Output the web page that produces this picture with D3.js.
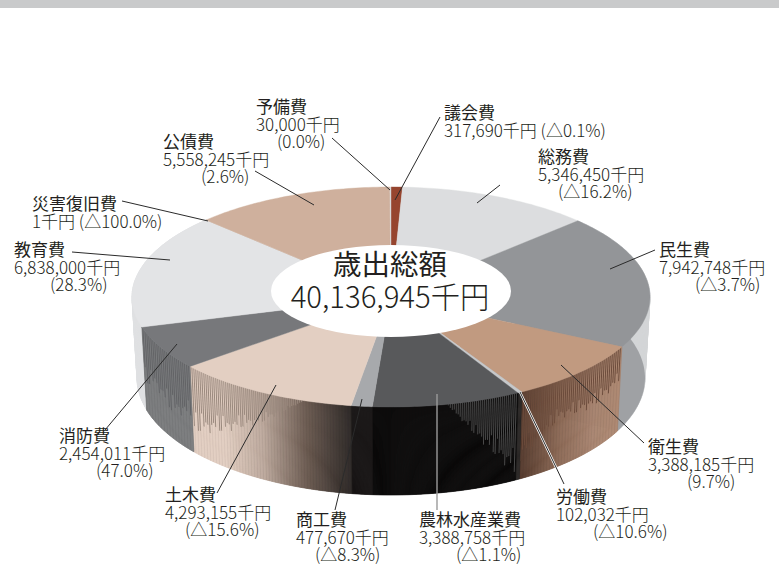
<!doctype html>
<html>
<head>
  <meta charset="utf-8">
  <script src="https://d3js.org/d3.v7.min.js"></script>
  <style>
    html, body {margin: 0; padding: 0; background: #fff;}
    svg {display: block;}
    text {font-family: "Noto Sans CJK JP", "Noto Sans", sans-serif; fill: #231f20;}
    .label {font-size: 17px; font-weight: 300;}
    .label .name {font-weight: 400;}
  </style>
</head>
<body>
  <svg id="chart" width="779" height="574"></svg>
  <script>
    const width = 779, height = 574

    // data, clockwise from 12 o'clock
    const categories = ['議会費', '総務費', '民生費', '衛生費', '労働費', '農林水産業費', '商工費', '土木費', '消防費', '教育費', '災害復旧費', '公債費', '予備費']
    const amounts = [317690, 5346450, 7942748, 3388185, 102032, 3388758, 477670, 4293155, 2454011, 6838000, 1, 5558245, 30000]
    const changes = ['△0.1%', '△16.2%', '△3.7%', '9.7%', '△10.6%', '△1.1%', '△8.3%', '△15.6%', '47.0%', '28.3%', '△100.0%', '2.6%', '0.0%']
    const title = '歳出総額'
    const totalLabel = '40,136,945千円'

    // top face colours
    const topColors = ['#96452f', '#dcdddf', '#939598', '#c19a80', '#c6c8ca', '#58595b', '#a7a9ac', '#e3cfc2', '#77787b', '#e3e4e6', '#d0b3a1', '#cfb09d', '#d8d8d8']

    // wall look per slice: ramp over the slice, stripe colour and stripe length (0..1 of wall height)
    const walls = {
      3: {ramp: ['#b08a72', '#a98571', '#8d6a56', '#54392c'], stripe: '#6b4b3b', len: [0.4, 0.5, 0.45, 0.8]},
      4: {ramp: ['#2a2625', '#2a2625'], stripe: '#2a2625', len: [0, 0]},
      5: {ramp: ['#0a0808', '#0a0808'], stripe: '#4a4a4a', len: [0.95, 0.5, 0, 0, 0]},
      6: {ramp: ['#161313', '#161313'], stripe: '#161313', len: [0, 0]},
      7: {ramp: ['#2c2725', '#6c5b51', '#bda99d', '#e3cfc2', '#e3cfc2'], stripe: '#9a897e', len: [0, 0, 0.35, 0.6, 0.78]},
      8: {ramp: ['#7b7c7e', '#7b7c7e'], stripe: '#626366', len: [0.6, 0.7, 0.55, 0.7]}
    }

    // label layout [x, y of first baseline], indent of the last line
    const labelPos = [
      [444, 119], [538, 163], [659, 256], [648, 453], [556, 503], [419, 526], [296, 526],
      [165, 501], [59, 442], [14, 256], [32, 210], [163, 148], [256, 113]
    ]
    const lastIndent = [0, 20, 36, 39, 37, 37, 19, 20, 37, 36, 0, 38, 21]
    const leaders = [
      [[440, 117], [395, 200]], [[500, 185], [477, 203]], [[655, 250], [610, 269]], [[644, 443], [561, 365]],
      [[564, 484], [520, 392]], [[437, 510], [437, 394]], [[335, 510], [362, 399]], [[217, 493], [276, 385]],
      [[105, 430], [177, 344]], [[72, 252], [170, 260]], [[122, 201], [208, 221]], [[255, 171], [314, 205]],
      [[332, 138], [390, 190]]
    ]

    const svg = d3.select('#chart')
    const toRad = Math.PI / 180

    // the gray band at the top of the page
    svg.append('rect').attr('width', width).attr('height', 8).attr('fill', '#c9cacb')

    const topE = {cx: 391, cy: 297, rx: 259, ry: 110}
    const botE = {cx: 391, cy: 378, rx: 254, ry: 117}
    const core = {cx: 391, cy: 291, rx: 120, ry: 46}

    // slight perspective: angles on the ellipse lean away from the viewer
    const warp = a => a - 6 * toRad * Math.sin(a)
    const onE = (e, a) => [e.cx + e.rx * Math.sin(a), e.cy - e.ry * Math.cos(a)]

    const slices = d3.pie().sort(null).value(d => d)(amounts).map((s, i) => ({
      i: i, a0: warp(s.startAngle), a1: warp(s.endAngle)
    }))

    const line = d3.line()
    const arcPts = (e, a0, a1, n) => d3.range(n + 1).map(k => onE(e, a0 + (a1 - a0) * k / n))
    const sector = (e, s, n) => line([[e.cx, e.cy]].concat(arcPts(e, s.a0, s.a1, n))) + 'Z'

    // stripes across the wall of one slice, roughly 1px wide on screen
    function stripes(s) {
      const out = []
      let a = s.a0, k = 0
      while (a < s.a1) {
        const step = 1 / (topE.rx * Math.max(0.2, Math.abs(Math.cos(a))))
        const next = Math.min(a + step, s.a1)
        out.push({a: a, b: next, k: k++, f: (a - s.a0) / (s.a1 - s.a0)})
        a = next
      }
      return out
    }
    const quad = (a, b, t) => {
      const mix = (u, v) => [u[0] + (v[0] - u[0]) * t, u[1] + (v[1] - u[1]) * t]
      return line([onE(topE, a), onE(topE, b), mix(onE(topE, b), onE(botE, b)), mix(onE(topE, a), onE(botE, a))]) + 'Z'
    }
    const rampScale = (stops) => d3.scaleLinear()
      .domain(stops.map((d, i) => i / (stops.length - 1)))
      .range(stops).clamp(true)

    // back layer: pale hull and the bottom ellipse of the two big pale slices
    const hull = svg.append('g')
    ;[[2, '#d3d5d7', '#9fa1a4'], [9, '#dfe0e2', '#dfe0e2']].forEach(([i, hullColor, floorColor]) => {
      const s = slices[i]
      hull.append('g').selectAll('path').data(stripes(s)).join('path')
        .attr('d', d => quad(d.a, d.b, 1))
        .attr('fill', hullColor).attr('stroke', hullColor).attr('stroke-width', 0.6)
      hull.append('path').attr('d', sector(botE, s, 60)).attr('fill', floorColor)
    })

    // front walls, base ramp then shorter stripes on top
    const wallG = svg.append('g')
    slices.filter(s => walls[s.i]).forEach(s => {
      const w = walls[s.i]
      const ramp = rampScale(w.ramp), len = rampScale(w.len)
      const data = stripes(s)
      const shade = d => d.k % 3 === 0 ? d3.color(ramp(d.f)).darker(0.18) : ramp(d.f)
      wallG.append('g').selectAll('path').data(data).join('path')
        .attr('d', d => quad(d.a, d.b, 1))
        .attr('fill', shade)
        .attr('stroke', shade).attr('stroke-width', 0.7)
      wallG.append('g').selectAll('path').data(data.filter(d => d.k % 2 && len(d.f) > 0)).join('path')
        .attr('d', d => quad(d.a, d.b, len(d.f) * (1 - 0.035 * (d.k * d.k % 11))))
        .attr('fill', w.stripe)
    })

    // top face
    svg.append('g').selectAll('path').data(slices).join('path')
      .attr('d', s => sector(topE, s, Math.max(2, Math.ceil((s.a1 - s.a0) * 60))))
      .attr('fill', s => topColors[s.i])
      .attr('stroke', s => topColors[s.i]).attr('stroke-width', 0.4)

    svg.append('ellipse')
      .attr('cx', core.cx).attr('cy', core.cy).attr('rx', core.rx).attr('ry', core.ry)
      .attr('fill', '#fff')

    // leader lines, the two over the dark wall get a pale casing
    const leaderG = svg.append('g').attr('fill', 'none')
    leaderG.selectAll('path.case').data([leaders[4]]).join('path').attr('class', 'case')
      .attr('d', line).attr('stroke', '#fff').attr('stroke-width', 2.4)
    leaderG.selectAll('path.lead').data(leaders).join('path').attr('class', 'lead')
      .attr('d', line)
      .attr('stroke', (d, i) => i === 5 ? '#9b9b9b' : '#2b2b2b')
      .attr('stroke-width', (d, i) => i === 5 ? 1.4 : 1)

    // labels
    const fmt = d3.format(',')
    const labels = svg.append('g').attr('class', 'label').selectAll('text').data(slices).join('text')
      .attr('x', s => labelPos[s.i][0]).attr('y', s => labelPos[s.i][1])
    labels.append('tspan').attr('class', 'name').text(s => categories[s.i])
    labels.each(function(s) {
      const t = d3.select(this), x = labelPos[s.i][0], val = fmt(amounts[s.i]) + '千円'
      if (lastIndent[s.i] === 0) {
        // value and change share one line
        t.append('tspan').attr('x', x).attr('dy', 17.6).text(val + ' (' + changes[s.i] + ')')
      } else {
        t.append('tspan').attr('x', x).attr('dy', 17.6).text(val)
        t.append('tspan').attr('x', x + lastIndent[s.i]).attr('dy', 17.6).text('(' + changes[s.i] + ')')
      }
    })

    // centre text
    svg.append('text').attr('x', 390).attr('y', 275).attr('text-anchor', 'middle')
      .attr('font-size', 28.5).attr('font-weight', 400).text(title)
    svg.append('text').attr('x', 390).attr('y', 308).attr('text-anchor', 'middle')
      .attr('font-size', 29.3).attr('font-weight', 300).text(totalLabel)
  </script>
</body>
</html>
